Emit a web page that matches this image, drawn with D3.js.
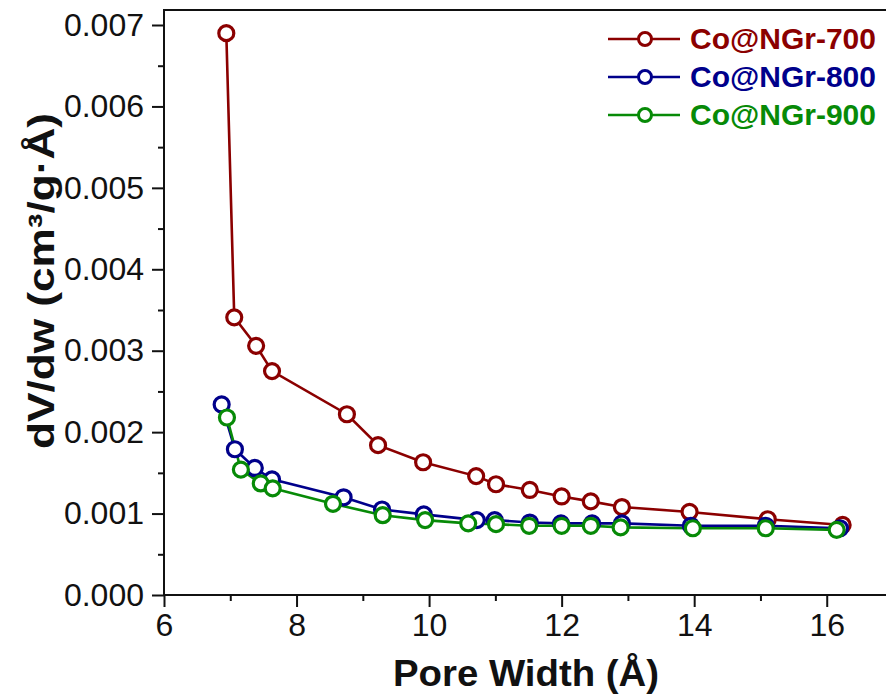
<!DOCTYPE html>
<html>
<head>
<meta charset="utf-8">
<script src="https://cdn.jsdelivr.net/npm/d3@7"></script>
<style>
  body { margin: 0; background: #fff; }
  text { font-family: "Liberation Sans", Arial, sans-serif; }
</style>
</head>
<body>
<svg id="chart" width="886" height="694"></svg>
<script>
const seriesNames = ["Co@NGr-700", "Co@NGr-800", "Co@NGr-900"];
const seriesColors = ["#8b0000", "#00008b", "#078a07"];

const x700 = [6.94, 7.06, 7.39, 7.63, 8.76, 9.23, 9.91, 10.71, 11.01, 11.52, 12.0, 12.44, 12.91, 13.93, 15.11, 16.24];
const y700 = [0.00690, 0.00341, 0.00306, 0.00275, 0.00222, 0.00184, 0.00163, 0.00146, 0.00136, 0.00129, 0.00121, 0.00115, 0.00108, 0.00102, 0.00093, 0.00086];

const x800 = [6.87, 7.07, 7.37, 7.63, 8.71, 9.29, 9.92, 10.72, 10.99, 11.52, 11.99, 12.46, 12.91, 13.95, 15.08, 16.2];
const y800 = [0.00234, 0.00179, 0.00156, 0.00142, 0.00120, 0.00105, 0.00099, 0.00092, 0.00092, 0.00089, 0.00088, 0.00088, 0.00088, 0.00085, 0.00085, 0.00082];

const x900 = [6.95, 7.16, 7.46, 7.64, 8.55, 9.3, 9.94, 10.59, 11.01, 11.51, 12.0, 12.44, 12.89, 13.98, 15.08, 16.15];
const y900 = [0.00218, 0.00154, 0.00137, 0.00131, 0.00112, 0.00098, 0.00092, 0.00088, 0.00087, 0.00085, 0.00085, 0.00085, 0.00083, 0.00082, 0.00082, 0.00080];

const xTicks = [6, 8, 10, 12, 14, 16];
const xMinor = [7, 9, 11, 13, 15];
const yTicks = [0, 0.001, 0.002, 0.003, 0.004, 0.005, 0.006, 0.007];
const yMinor = [0.0005, 0.0015, 0.0025, 0.0035, 0.0045, 0.0055, 0.0065];

const series = [
  { name: seriesNames[0], color: seriesColors[0], pts: x700.map((v, i) => [v, y700[i]]) },
  { name: seriesNames[1], color: seriesColors[1], pts: x800.map((v, i) => [v, y800[i]]) },
  { name: seriesNames[2], color: seriesColors[2], pts: x900.map((v, i) => [v, y900[i]]) }
];

const svg = d3.select("#chart");
const mLeft = 164, mRight = 893, mTop = 10, mBottom = 595;

const x = d3.scaleLinear().domain([6, 17]).range([mLeft, mRight]);
const y = d3.scaleLinear().domain([0, 0.007]).range([mBottom, 25]);

// frame
svg.append("rect")
  .attr("x", mLeft).attr("y", mTop)
  .attr("width", mRight - mLeft).attr("height", mBottom - mTop)
  .attr("fill", "none").attr("stroke", "#111").attr("stroke-width", 2);

// axes
const xAxis = svg.append("g")
  .attr("transform", `translate(0,${mBottom})`)
  .call(d3.axisBottom(x).tickValues(xTicks).tickFormat(d3.format("d")).tickSize(12).tickPadding(6));
xAxis.select(".domain").remove();

svg.append("g")
  .attr("transform", `translate(0,${mBottom})`)
  .call(d3.axisBottom(x).tickValues(xMinor).tickFormat("").tickSize(6))
  .select(".domain").remove();

const yAxis = svg.append("g")
  .attr("transform", `translate(${mLeft},0)`)
  .call(d3.axisLeft(y).tickValues(yTicks).tickFormat(d3.format(".3f")).tickSize(12).tickPadding(8));
yAxis.select(".domain").remove();

svg.append("g")
  .attr("transform", `translate(${mLeft},0)`)
  .call(d3.axisLeft(y).tickValues(yMinor).tickFormat("").tickSize(6))
  .select(".domain").remove();

svg.selectAll(".tick line").attr("stroke", "#111").attr("stroke-width", 2);
svg.selectAll(".tick text")
  .attr("font-family", "Liberation Sans, Arial, sans-serif")
  .attr("font-size", 32)
  .attr("fill", "#111");

// axis titles
svg.append("text")
  .attr("x", 526).attr("y", 686)
  .attr("text-anchor", "middle")
  .attr("font-size", 37).attr("font-weight", "bold")
  .attr("textLength", 266).attr("lengthAdjust", "spacingAndGlyphs")
  .attr("fill", "#111")
  .text("Pore Width (Å)");

svg.append("text")
  .attr("transform", `translate(54,281) rotate(-90)`)
  .attr("text-anchor", "middle")
  .attr("font-size", 37).attr("font-weight", "bold")
  .attr("textLength", 336).attr("lengthAdjust", "spacingAndGlyphs")
  .attr("fill", "#111")
  .text("dV/dw (cm³/g·Å)");

// lines and markers
const line = d3.line().x(d => x(d[0])).y(d => y(d[1]));

const plot = svg.append("g");
series.forEach(s => {
  plot.append("path")
    .datum(s.pts)
    .attr("d", line)
    .attr("fill", "none")
    .attr("stroke", s.color)
    .attr("stroke-width", 2.6);
});
series.forEach(s => {
  plot.selectAll(null)
    .data(s.pts)
    .join("circle")
    .attr("cx", d => x(d[0]))
    .attr("cy", d => y(d[1]))
    .attr("r", 7.5)
    .attr("fill", "#fff")
    .attr("stroke", s.color)
    .attr("stroke-width", 3.2);
});

// legend
const legend = svg.append("g").attr("transform", "translate(608,39)");
series.forEach((s, i) => {
  const g = legend.append("g").attr("transform", `translate(0,${i * 38})`);
  g.append("line").attr("x1", 0).attr("x2", 72).attr("y1", 0).attr("y2", 0)
    .attr("stroke", s.color).attr("stroke-width", 2.6);
  g.append("circle").attr("cx", 37).attr("cy", 0).attr("r", 6.5)
    .attr("fill", "#fff").attr("stroke", s.color).attr("stroke-width", 3);
  g.append("text").attr("x", 82).attr("y", 10)
    .attr("font-size", 30).attr("font-weight", "bold")
    .attr("fill", s.color)
    .text(s.name);
});
</script>
</body>
</html>
